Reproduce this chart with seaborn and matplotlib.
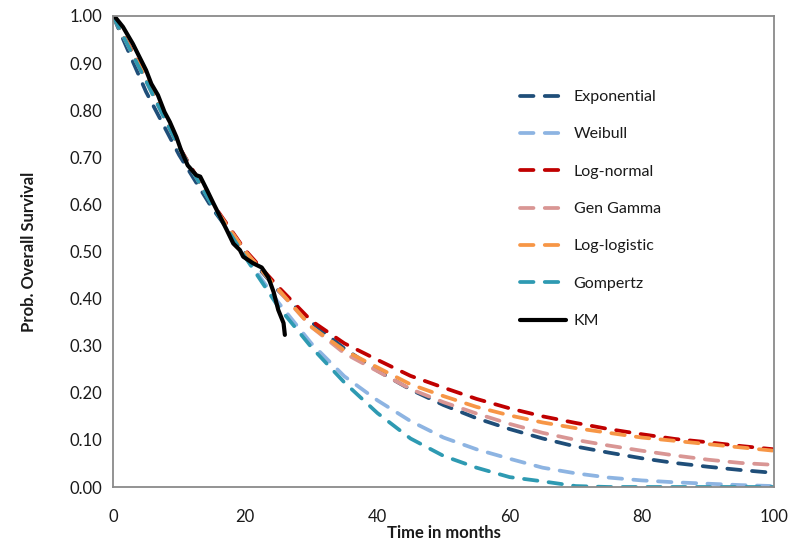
import matplotlib
matplotlib.use("Agg")
import matplotlib.pyplot as plt
import seaborn as sns
import pandas as pd

# ---- data ----
months = [0, 5, 10, 15, 20, 25, 30, 35, 40, 45, 50, 55, 60, 65, 70, 75, 80, 85, 90, 95, 100]
exponential = [1.0, 0.839, 0.705, 0.592, 0.497, 0.417, 0.350, 0.294, 0.247, 0.207, 0.174,
               0.146, 0.123, 0.103, 0.086, 0.073, 0.061, 0.051, 0.043, 0.036, 0.030]
weibull = [1.0, 0.865, 0.722, 0.600, 0.490, 0.392, 0.305, 0.235, 0.184, 0.140, 0.105,
           0.080, 0.060, 0.041, 0.029, 0.020, 0.014, 0.010, 0.007, 0.004, 0.002]
lognormal = [1.0, 0.870, 0.722, 0.603, 0.503, 0.425, 0.353, 0.305, 0.270, 0.236, 0.211,
             0.187, 0.167, 0.150, 0.136, 0.123, 0.112, 0.102, 0.095, 0.087, 0.080]
gengamma = [1.0, 0.862, 0.720, 0.600, 0.500, 0.418, 0.340, 0.284, 0.246, 0.208, 0.180,
            0.156, 0.134, 0.115, 0.100, 0.088, 0.077, 0.067, 0.058, 0.051, 0.047]
loglogistic = [1.0, 0.868, 0.720, 0.600, 0.500, 0.420, 0.340, 0.290, 0.254, 0.218, 0.193,
               0.170, 0.152, 0.137, 0.125, 0.115, 0.105, 0.098, 0.091, 0.084, 0.077]
gompertz = [1.0, 0.862, 0.720, 0.598, 0.488, 0.383, 0.297, 0.222, 0.157, 0.103, 0.066,
            0.041, 0.021, 0.012, 0.002, 0.0, 0.0, 0.0, 0.0, 0.0, 0.0]

km_time = [0, 0.3, 1.5, 3.0, 4.0, 5.0, 5.8, 6.8, 7.8, 8.6, 9.6, 10.3, 11.3, 12.6, 13.2,
           14.2, 15.2, 16.2, 17.2, 18.2, 19.2, 19.7, 21.2, 22.5, 23.5, 24.3, 25.0, 25.8, 26.0]
km_surv = [1.0, 0.998, 0.977, 0.941, 0.913, 0.885, 0.856, 0.832, 0.796, 0.775, 0.743, 0.715,
           0.683, 0.662, 0.659, 0.631, 0.602, 0.574, 0.546, 0.517, 0.503, 0.489, 0.475,
           0.466, 0.445, 0.414, 0.376, 0.348, 0.323]

model_names = ["Exponential", "Weibull", "Log-normal", "Gen Gamma", "Log-logistic", "Gompertz"]
model_values = [exponential, weibull, lognormal, gengamma, loglogistic, gompertz]
model_colors = ["#1F4E79", "#8DB4E2", "#C00000", "#D99694", "#F79646", "#2E9AB2"]

x_ticks = [0, 20, 40, 60, 80, 100]
y_ticks = [0.0, 0.1, 0.2, 0.3, 0.4, 0.5, 0.6, 0.7, 0.8, 0.9, 1.0]

# ---- style ----
sns.set_theme(style="white")
plt.rcParams['font.family'] = ['Lato', 'DejaVu Sans']

fig = plt.figure(figsize=(7.98, 5.43), dpi=100)
ax = fig.add_axes([113 / 798, 56 / 543, 661 / 798, 471 / 543])

for name, vals, col in zip(model_names, model_values, model_colors):
    df = pd.DataFrame({"t": months, "s": vals})
    sns.lineplot(data=df, x="t", y="s", ax=ax, color=col, linewidth=2.7,
                 linestyle=(0, (3.6, 3.0)), dash_capstyle="round", label=name)

km_df = pd.DataFrame({"t": km_time, "s": km_surv})
sns.lineplot(data=km_df, x="t", y="s", ax=ax, color="black", linewidth=3.0,
             solid_joinstyle="round", label="KM")

ax.set_xlim(0, 100)
ax.set_ylim(0, 1)
ax.set_xticks(x_ticks)
ax.set_yticks(y_ticks)
ax.set_xticklabels([str(v) for v in x_ticks])
ax.set_yticklabels([f"{v:.2f}" for v in y_ticks])

for sp in ax.spines.values():
    sp.set_visible(True)
    sp.set_color("#8a8a8a")
    sp.set_linewidth(1.3)

ax.tick_params(axis="both", direction="out", length=5, width=1.2, color="#808080",
               labelsize=12, labelcolor="#1a1a1a")
ax.tick_params(axis="x", pad=11)
ax.tick_params(axis="y", pad=3)

ax.set_xlabel("Time in months", fontsize=12, fontweight="bold", color="#1a1a1a", labelpad=0)
ax.set_ylabel("Prob. Overall Survival", fontsize=12, fontweight="bold", color="#1a1a1a",
              labelpad=23)

leg = ax.legend(loc="upper left", bbox_to_anchor=(0.616, 0.843), frameon=False,
                fontsize=11.5, handlelength=2.9, handletextpad=0.45, labelspacing=1.45,
                borderpad=0, borderaxespad=0)
for t in leg.get_texts():
    t.set_color("#1a1a1a")

fig.savefig("out.png", dpi=100)
